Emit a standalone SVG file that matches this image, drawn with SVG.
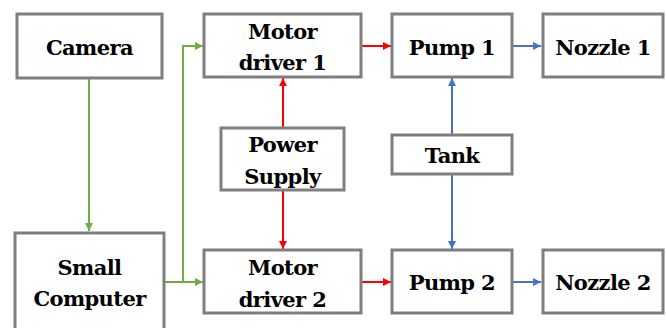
<svg xmlns="http://www.w3.org/2000/svg" width="666" height="328" viewBox="0 0 666 328">
<style>
.box{fill:#fff;stroke:#7f7f7f;stroke-width:3}
.t{font-family:'DejaVu Serif','Liberation Serif','Noto Serif',serif;font-weight:bold;font-size:21px;letter-spacing:-0.6px;fill:#000;text-anchor:middle}
.g{stroke:#70ad47;stroke-width:2;fill:none}
.r{stroke:#ff0000;stroke-width:2;fill:none}
.b{stroke:#4472c4;stroke-width:2;fill:none}
</style>
<defs>
<marker id="ag" markerWidth="8" markerHeight="8" refX="8" refY="4" orient="auto" markerUnits="userSpaceOnUse"><path d="M0,0 L8,4 L0,8 Z" fill="#70ad47"/></marker>
<marker id="ar" markerWidth="8" markerHeight="8" refX="8" refY="4" orient="auto" markerUnits="userSpaceOnUse"><path d="M0,0 L8,4 L0,8 Z" fill="#ff0000"/></marker>
<marker id="ab" markerWidth="8" markerHeight="8" refX="8" refY="4" orient="auto" markerUnits="userSpaceOnUse"><path d="M0,0 L8,4 L0,8 Z" fill="#4472c4"/></marker>
</defs>
<rect width="666" height="328" fill="#fff"/>
<g id="connectors">
<path class="g" d="M89,79 V231" marker-end="url(#ag)"/>
<path class="g" d="M164,282 H203" marker-end="url(#ag)"/>
<path class="g" d="M183,282 V46 H203" marker-end="url(#ag)"/>
<path class="r" d="M283,127 V78" marker-end="url(#ar)"/>
<path class="r" d="M283,191 V249" marker-end="url(#ar)"/>
<path class="r" d="M362,46 H391" marker-end="url(#ar)"/>
<path class="r" d="M362,282 H391" marker-end="url(#ar)"/>
<path class="b" d="M512,46 H541" marker-end="url(#ab)"/>
<path class="b" d="M512,282 H541" marker-end="url(#ab)"/>
<path class="b" d="M452,134 V78" marker-end="url(#ab)"/>
<path class="b" d="M452,175 V249" marker-end="url(#ab)"/>
</g>
<g id="camera"><rect class="box" x="17" y="14" width="145" height="64"/><text class="t" x="89.5" y="55">Camera</text></g>
<g id="motor1"><rect class="box" x="204" y="14" width="157" height="63"/><text class="t" x="282.5" y="39">Motor</text><text class="t" x="282.5" y="70">driver 1</text></g>
<g id="pump1"><rect class="box" x="392" y="14" width="120" height="63"/><text class="t" x="452" y="55">Pump 1</text></g>
<g id="nozzle1"><rect class="box" x="543" y="14" width="120" height="63"/><text class="t" x="603" y="55">Nozzle 1</text></g>
<g id="power"><rect class="box" x="221" y="128" width="123" height="62"/><text class="t" x="282.5" y="152">Power</text><text class="t" x="282.5" y="184">Supply</text></g>
<g id="tank"><rect class="box" x="392" y="135" width="120" height="39"/><text class="t" x="452" y="163">Tank</text></g>
<g id="computer"><rect class="box" x="15" y="233" width="149" height="105"/><text class="t" x="89.5" y="275">Small</text><text class="t" x="89.5" y="306">Computer</text></g>
<g id="motor2"><rect class="box" x="204" y="250" width="157" height="63"/><text class="t" x="282.5" y="275">Motor</text><text class="t" x="282.5" y="307">driver 2</text></g>
<g id="pump2"><rect class="box" x="392" y="250" width="120" height="63"/><text class="t" x="452" y="290">Pump 2</text></g>
<g id="nozzle2"><rect class="box" x="543" y="250" width="120" height="63"/><text class="t" x="603" y="290">Nozzle 2</text></g>
</svg>
